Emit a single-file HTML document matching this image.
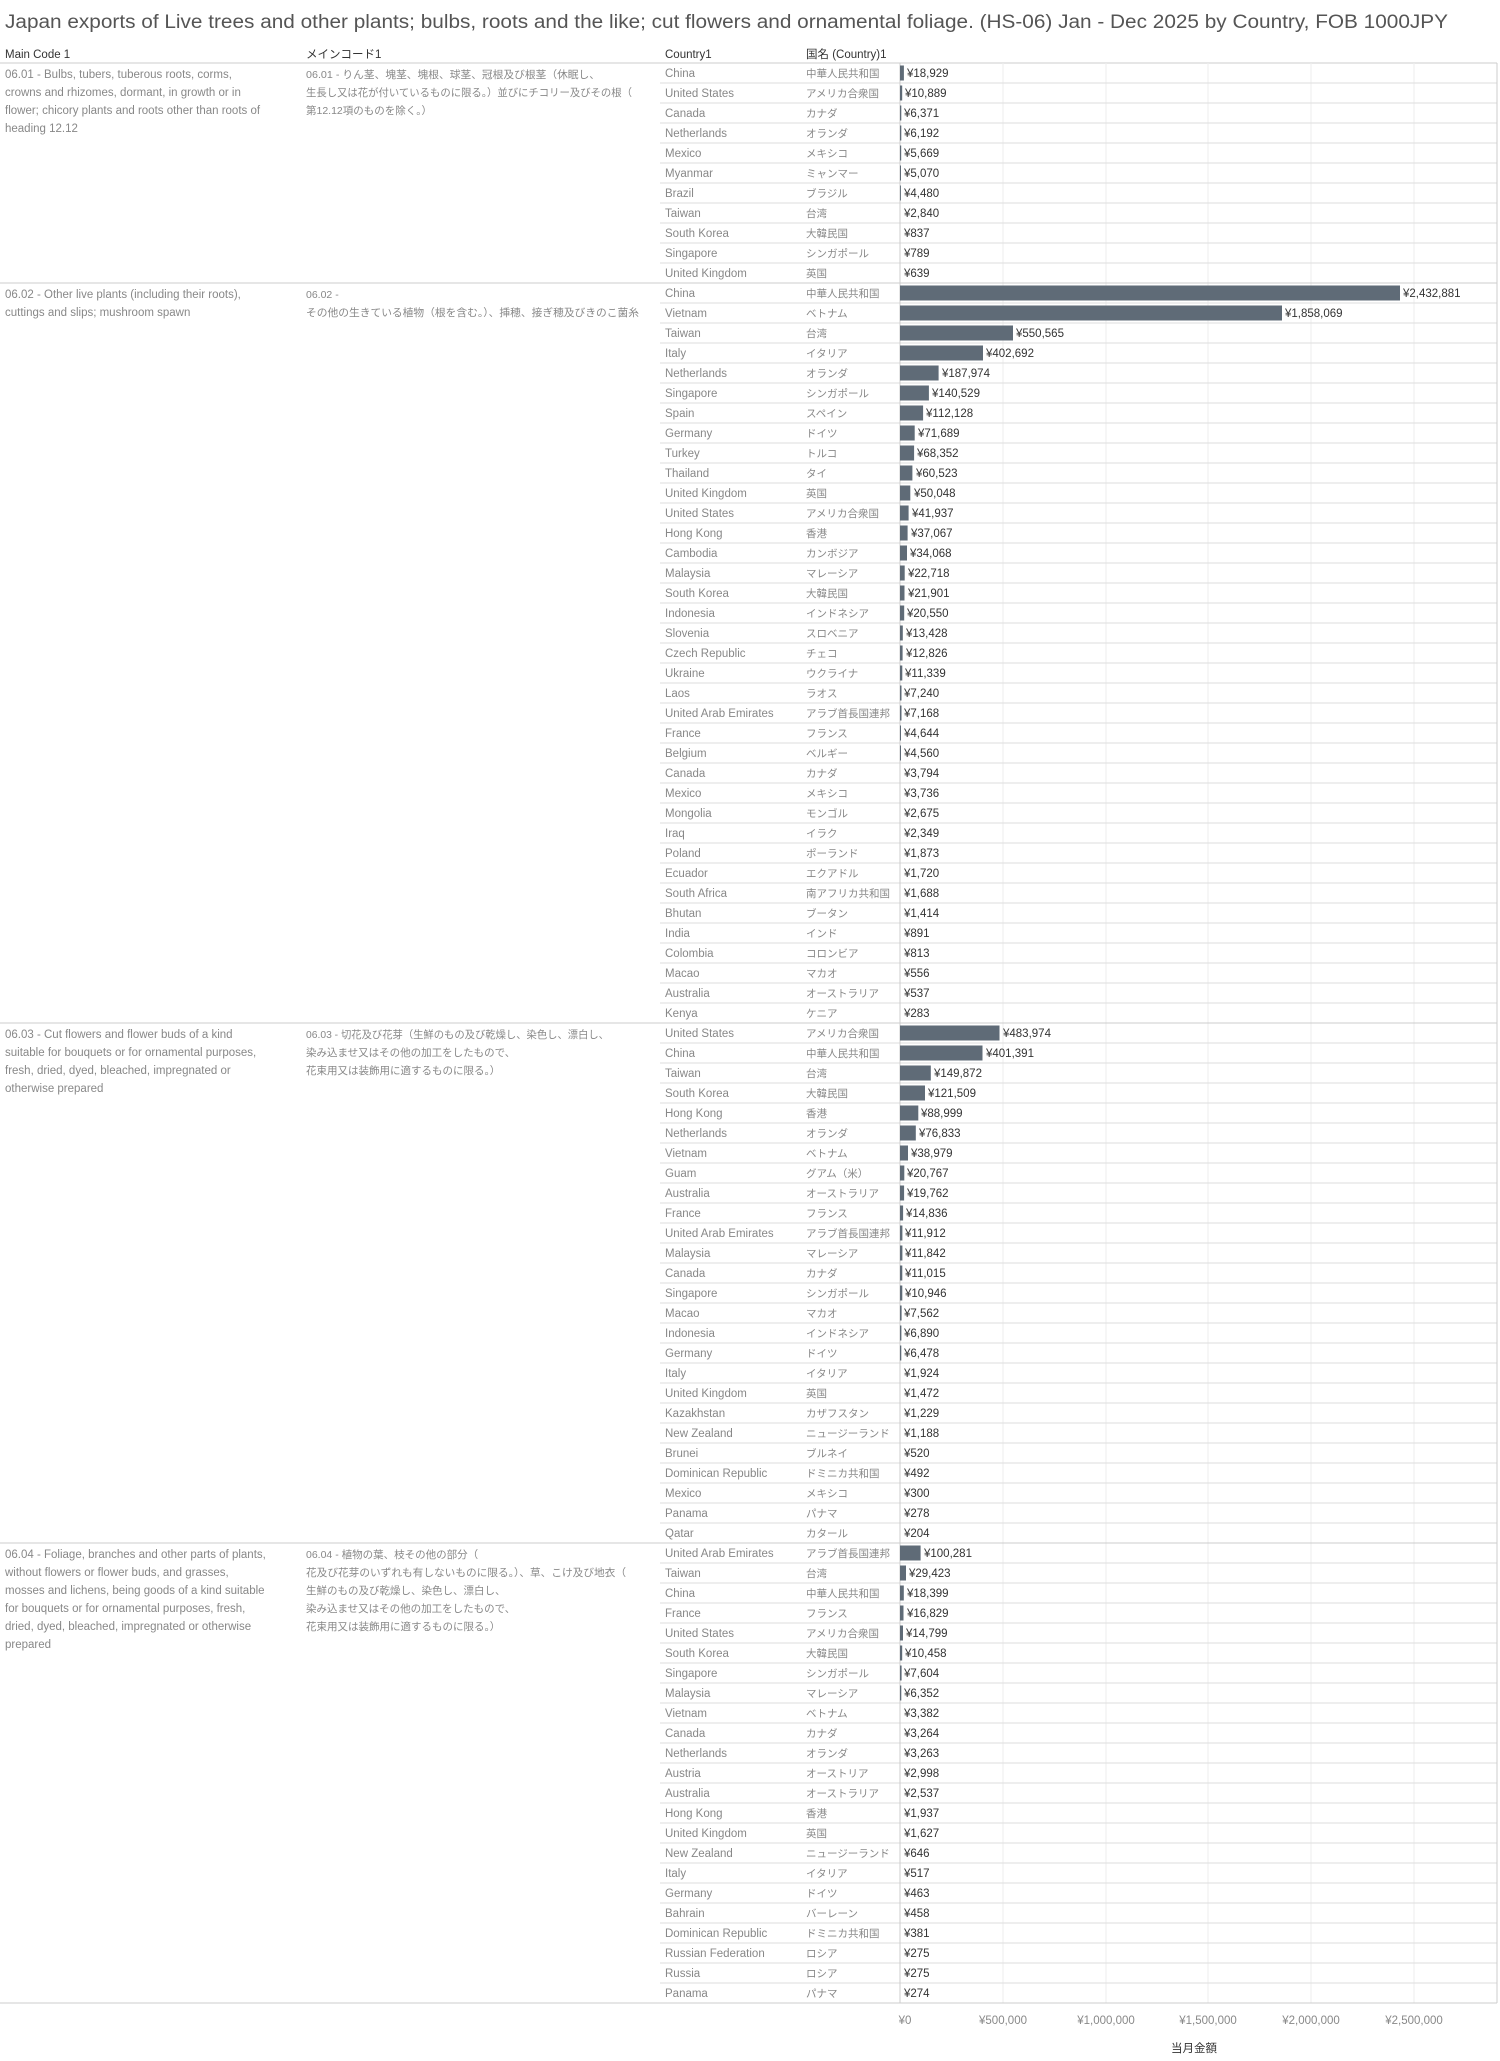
<!DOCTYPE html>
<html><head><meta charset="utf-8"><style>
html,body{margin:0;padding:0;background:#fff}
svg{display:block}
text{font-family:"Liberation Sans","Noto Sans CJK JP",sans-serif}
.t{font-size:19px;fill:#555}
.h{font-size:11.5px;fill:#333}
.d{font-size:11.5px;fill:#888}
.dj{font-size:10.5px;fill:#888}
.c{font-size:11.5px;fill:#888}
.j{font-size:10.5px;fill:#888}
.v{font-size:11.5px;fill:#333}
.a{font-size:11.5px;fill:#888}
.b{fill:#5f6b77}
</style></head><body>
<svg width="1500" height="2061" viewBox="0 0 1500 2061" xmlns="http://www.w3.org/2000/svg">
<text class="t" x="5" y="28" textLength="1443" lengthAdjust="spacingAndGlyphs">Japan exports of Live trees and other plants; bulbs, roots and the like; cut flowers and ornamental foliage. (HS-06) Jan - Dec 2025 by Country, FOB 1000JPY</text>
<text class="h" x="5" y="58">Main Code 1</text>
<text class="h" x="306" y="58">メインコード1</text>
<text class="h" x="665" y="58">Country1</text>
<text class="h" x="806" y="58">国名 (Country)1</text>
<line x1="0" y1="63" x2="1497" y2="63" stroke="#ccc"/>
<g stroke="#eee">
<line x1="1003" y1="63" x2="1003" y2="2003"/><line x1="1106" y1="63" x2="1106" y2="2003"/><line x1="1208" y1="63" x2="1208" y2="2003"/><line x1="1311" y1="63" x2="1311" y2="2003"/><line x1="1414" y1="63" x2="1414" y2="2003"/>
</g>
<g stroke="#ddd">
<line x1="660" y1="83" x2="1497" y2="83"/><line x1="660" y1="103" x2="1497" y2="103"/><line x1="660" y1="123" x2="1497" y2="123"/><line x1="660" y1="143" x2="1497" y2="143"/><line x1="660" y1="163" x2="1497" y2="163"/><line x1="660" y1="183" x2="1497" y2="183"/><line x1="660" y1="203" x2="1497" y2="203"/><line x1="660" y1="223" x2="1497" y2="223"/><line x1="660" y1="243" x2="1497" y2="243"/><line x1="660" y1="263" x2="1497" y2="263"/>
<line x1="660" y1="303" x2="1497" y2="303"/><line x1="660" y1="323" x2="1497" y2="323"/><line x1="660" y1="343" x2="1497" y2="343"/><line x1="660" y1="363" x2="1497" y2="363"/><line x1="660" y1="383" x2="1497" y2="383"/><line x1="660" y1="403" x2="1497" y2="403"/><line x1="660" y1="423" x2="1497" y2="423"/><line x1="660" y1="443" x2="1497" y2="443"/><line x1="660" y1="463" x2="1497" y2="463"/><line x1="660" y1="483" x2="1497" y2="483"/><line x1="660" y1="503" x2="1497" y2="503"/><line x1="660" y1="523" x2="1497" y2="523"/><line x1="660" y1="543" x2="1497" y2="543"/><line x1="660" y1="563" x2="1497" y2="563"/><line x1="660" y1="583" x2="1497" y2="583"/><line x1="660" y1="603" x2="1497" y2="603"/><line x1="660" y1="623" x2="1497" y2="623"/><line x1="660" y1="643" x2="1497" y2="643"/><line x1="660" y1="663" x2="1497" y2="663"/><line x1="660" y1="683" x2="1497" y2="683"/><line x1="660" y1="703" x2="1497" y2="703"/><line x1="660" y1="723" x2="1497" y2="723"/><line x1="660" y1="743" x2="1497" y2="743"/><line x1="660" y1="763" x2="1497" y2="763"/><line x1="660" y1="783" x2="1497" y2="783"/><line x1="660" y1="803" x2="1497" y2="803"/><line x1="660" y1="823" x2="1497" y2="823"/><line x1="660" y1="843" x2="1497" y2="843"/><line x1="660" y1="863" x2="1497" y2="863"/><line x1="660" y1="883" x2="1497" y2="883"/><line x1="660" y1="903" x2="1497" y2="903"/><line x1="660" y1="923" x2="1497" y2="923"/><line x1="660" y1="943" x2="1497" y2="943"/><line x1="660" y1="963" x2="1497" y2="963"/><line x1="660" y1="983" x2="1497" y2="983"/><line x1="660" y1="1003" x2="1497" y2="1003"/>
<line x1="660" y1="1043" x2="1497" y2="1043"/><line x1="660" y1="1063" x2="1497" y2="1063"/><line x1="660" y1="1083" x2="1497" y2="1083"/><line x1="660" y1="1103" x2="1497" y2="1103"/><line x1="660" y1="1123" x2="1497" y2="1123"/><line x1="660" y1="1143" x2="1497" y2="1143"/><line x1="660" y1="1163" x2="1497" y2="1163"/><line x1="660" y1="1183" x2="1497" y2="1183"/><line x1="660" y1="1203" x2="1497" y2="1203"/><line x1="660" y1="1223" x2="1497" y2="1223"/><line x1="660" y1="1243" x2="1497" y2="1243"/><line x1="660" y1="1263" x2="1497" y2="1263"/><line x1="660" y1="1283" x2="1497" y2="1283"/><line x1="660" y1="1303" x2="1497" y2="1303"/><line x1="660" y1="1323" x2="1497" y2="1323"/><line x1="660" y1="1343" x2="1497" y2="1343"/><line x1="660" y1="1363" x2="1497" y2="1363"/><line x1="660" y1="1383" x2="1497" y2="1383"/><line x1="660" y1="1403" x2="1497" y2="1403"/><line x1="660" y1="1423" x2="1497" y2="1423"/><line x1="660" y1="1443" x2="1497" y2="1443"/><line x1="660" y1="1463" x2="1497" y2="1463"/><line x1="660" y1="1483" x2="1497" y2="1483"/><line x1="660" y1="1503" x2="1497" y2="1503"/><line x1="660" y1="1523" x2="1497" y2="1523"/>
<line x1="660" y1="1563" x2="1497" y2="1563"/><line x1="660" y1="1583" x2="1497" y2="1583"/><line x1="660" y1="1603" x2="1497" y2="1603"/><line x1="660" y1="1623" x2="1497" y2="1623"/><line x1="660" y1="1643" x2="1497" y2="1643"/><line x1="660" y1="1663" x2="1497" y2="1663"/><line x1="660" y1="1683" x2="1497" y2="1683"/><line x1="660" y1="1703" x2="1497" y2="1703"/><line x1="660" y1="1723" x2="1497" y2="1723"/><line x1="660" y1="1743" x2="1497" y2="1743"/><line x1="660" y1="1763" x2="1497" y2="1763"/><line x1="660" y1="1783" x2="1497" y2="1783"/><line x1="660" y1="1803" x2="1497" y2="1803"/><line x1="660" y1="1823" x2="1497" y2="1823"/><line x1="660" y1="1843" x2="1497" y2="1843"/><line x1="660" y1="1863" x2="1497" y2="1863"/><line x1="660" y1="1883" x2="1497" y2="1883"/><line x1="660" y1="1903" x2="1497" y2="1903"/><line x1="660" y1="1923" x2="1497" y2="1923"/><line x1="660" y1="1943" x2="1497" y2="1943"/><line x1="660" y1="1963" x2="1497" y2="1963"/><line x1="660" y1="1983" x2="1497" y2="1983"/>
</g>
<g stroke="#ccc">
<line x1="0" y1="283" x2="1497" y2="283"/><line x1="0" y1="1023" x2="1497" y2="1023"/><line x1="0" y1="1543" x2="1497" y2="1543"/><line x1="0" y1="2003" x2="1497" y2="2003"/>
<line x1="900" y1="63" x2="900" y2="2003"/><line x1="1497" y1="63" x2="1497" y2="2003"/>
</g>
<text class="d" x="5" y="78">06.01 - Bulbs, tubers, tuberous roots, corms,</text>
<text class="d" x="5" y="96">crowns and rhizomes, dormant, in growth or in</text>
<text class="d" x="5" y="114">flower; chicory plants and roots other than roots of</text>
<text class="d" x="5" y="132">heading 12.12</text>
<text class="dj" x="306" y="78" textLength="294" lengthAdjust="spacingAndGlyphs">06.01 - りん茎、塊茎、塊根、球茎、冠根及び根茎（休眠し、</text>
<text class="dj" x="306" y="96" textLength="326" lengthAdjust="spacingAndGlyphs">生長し又は花が付いているものに限る。）並びにチコリー及びその根（</text>
<text class="dj" x="306" y="114">第12.12項のものを除く。）</text>
<text class="d" x="5" y="298">06.02 - Other live plants (including their roots),</text>
<text class="d" x="5" y="316">cuttings and slips; mushroom spawn</text>
<text class="dj" x="306" y="298">06.02 -</text>
<text class="dj" x="306" y="316" textLength="333" lengthAdjust="spacingAndGlyphs">その他の生きている植物（根を含む。）、挿穂、接ぎ穂及びきのこ菌糸</text>
<text class="d" x="5" y="1038">06.03 - Cut flowers and flower buds of a kind</text>
<text class="d" x="5" y="1056">suitable for bouquets or for ornamental purposes,</text>
<text class="d" x="5" y="1074">fresh, dried, dyed, bleached, impregnated or</text>
<text class="d" x="5" y="1092">otherwise prepared</text>
<text class="dj" x="306" y="1038" textLength="303" lengthAdjust="spacingAndGlyphs">06.03 - 切花及び花芽（生鮮のもの及び乾燥し、染色し、漂白し、</text>
<text class="dj" x="306" y="1056">染み込ませ又はその他の加工をしたもので、</text>
<text class="dj" x="306" y="1074">花束用又は装飾用に適するものに限る。）</text>
<text class="d" x="5" y="1558">06.04 - Foliage, branches and other parts of plants,</text>
<text class="d" x="5" y="1576">without flowers or flower buds, and grasses,</text>
<text class="d" x="5" y="1594">mosses and lichens, being goods of a kind suitable</text>
<text class="d" x="5" y="1612">for bouquets or for ornamental purposes, fresh,</text>
<text class="d" x="5" y="1630">dried, dyed, bleached, impregnated or otherwise</text>
<text class="d" x="5" y="1648">prepared</text>
<text class="dj" x="306" y="1558">06.04 - 植物の葉、枝その他の部分（</text>
<text class="dj" x="306" y="1576" textLength="320" lengthAdjust="spacingAndGlyphs">花及び花芽のいずれも有しないものに限る。）、草、こけ及び地衣（</text>
<text class="dj" x="306" y="1594">生鮮のもの及び乾燥し、染色し、漂白し、</text>
<text class="dj" x="306" y="1612">染み込ませ又はその他の加工をしたもので、</text>
<text class="dj" x="306" y="1630">花束用又は装飾用に適するものに限る。）</text>

<g transform="translate(0,63)"><text class="c" x="665" y="14">China</text><text class="j" x="806" y="14">中華人民共和国</text><rect class="b" x="900" y="2.5" width="3.9" height="15"/><text class="v" x="907" y="14">¥18,929</text></g>
<g transform="translate(0,83)"><text class="c" x="665" y="14">United States</text><text class="j" x="806" y="14">アメリカ合衆国</text><rect class="b" x="900" y="2.5" width="2.2" height="15"/><text class="v" x="905" y="14">¥10,889</text></g>
<g transform="translate(0,103)"><text class="c" x="665" y="14">Canada</text><text class="j" x="806" y="14">カナダ</text><rect class="b" x="900" y="2.5" width="1.3" height="15"/><text class="v" x="904" y="14">¥6,371</text></g>
<g transform="translate(0,123)"><text class="c" x="665" y="14">Netherlands</text><text class="j" x="806" y="14">オランダ</text><rect class="b" x="900" y="2.5" width="1.3" height="15"/><text class="v" x="904" y="14">¥6,192</text></g>
<g transform="translate(0,143)"><text class="c" x="665" y="14">Mexico</text><text class="j" x="806" y="14">メキシコ</text><rect class="b" x="900" y="2.5" width="1.2" height="15"/><text class="v" x="904" y="14">¥5,669</text></g>
<g transform="translate(0,163)"><text class="c" x="665" y="14">Myanmar</text><text class="j" x="806" y="14">ミャンマー</text><rect class="b" x="900" y="2.5" width="1" height="15"/><text class="v" x="904" y="14">¥5,070</text></g>
<g transform="translate(0,183)"><text class="c" x="665" y="14">Brazil</text><text class="j" x="806" y="14">ブラジル</text><rect class="b" x="900" y="2.5" width="0.9" height="15"/><text class="v" x="904" y="14">¥4,480</text></g>
<g transform="translate(0,203)"><text class="c" x="665" y="14">Taiwan</text><text class="j" x="806" y="14">台湾</text><text class="v" x="904" y="14">¥2,840</text></g>
<g transform="translate(0,223)"><text class="c" x="665" y="14">South Korea</text><text class="j" x="806" y="14">大韓民国</text><text class="v" x="904" y="14">¥837</text></g>
<g transform="translate(0,243)"><text class="c" x="665" y="14">Singapore</text><text class="j" x="806" y="14">シンガポール</text><text class="v" x="904" y="14">¥789</text></g>
<g transform="translate(0,263)"><text class="c" x="665" y="14">United Kingdom</text><text class="j" x="806" y="14">英国</text><text class="v" x="904" y="14">¥639</text></g>

<g transform="translate(0,283)"><text class="c" x="665" y="14">China</text><text class="j" x="806" y="14">中華人民共和国</text><rect class="b" x="900" y="2.5" width="500" height="15"/><text class="v" x="1403" y="14">¥2,432,881</text></g>
<g transform="translate(0,303)"><text class="c" x="665" y="14">Vietnam</text><text class="j" x="806" y="14">ベトナム</text><rect class="b" x="900" y="2.5" width="382" height="15"/><text class="v" x="1285" y="14">¥1,858,069</text></g>
<g transform="translate(0,323)"><text class="c" x="665" y="14">Taiwan</text><text class="j" x="806" y="14">台湾</text><rect class="b" x="900" y="2.5" width="113" height="15"/><text class="v" x="1016" y="14">¥550,565</text></g>
<g transform="translate(0,343)"><text class="c" x="665" y="14">Italy</text><text class="j" x="806" y="14">イタリア</text><rect class="b" x="900" y="2.5" width="83" height="15"/><text class="v" x="986" y="14">¥402,692</text></g>
<g transform="translate(0,363)"><text class="c" x="665" y="14">Netherlands</text><text class="j" x="806" y="14">オランダ</text><rect class="b" x="900" y="2.5" width="38.6" height="15"/><text class="v" x="942" y="14">¥187,974</text></g>
<g transform="translate(0,383)"><text class="c" x="665" y="14">Singapore</text><text class="j" x="806" y="14">シンガポール</text><rect class="b" x="900" y="2.5" width="28.9" height="15"/><text class="v" x="932" y="14">¥140,529</text></g>
<g transform="translate(0,403)"><text class="c" x="665" y="14">Spain</text><text class="j" x="806" y="14">スペイン</text><rect class="b" x="900" y="2.5" width="23.1" height="15"/><text class="v" x="926" y="14">¥112,128</text></g>
<g transform="translate(0,423)"><text class="c" x="665" y="14">Germany</text><text class="j" x="806" y="14">ドイツ</text><rect class="b" x="900" y="2.5" width="14.7" height="15"/><text class="v" x="918" y="14">¥71,689</text></g>
<g transform="translate(0,443)"><text class="c" x="665" y="14">Turkey</text><text class="j" x="806" y="14">トルコ</text><rect class="b" x="900" y="2.5" width="14.1" height="15"/><text class="v" x="917" y="14">¥68,352</text></g>
<g transform="translate(0,463)"><text class="c" x="665" y="14">Thailand</text><text class="j" x="806" y="14">タイ</text><rect class="b" x="900" y="2.5" width="12.4" height="15"/><text class="v" x="916" y="14">¥60,523</text></g>
<g transform="translate(0,483)"><text class="c" x="665" y="14">United Kingdom</text><text class="j" x="806" y="14">英国</text><rect class="b" x="900" y="2.5" width="10.3" height="15"/><text class="v" x="914" y="14">¥50,048</text></g>
<g transform="translate(0,503)"><text class="c" x="665" y="14">United States</text><text class="j" x="806" y="14">アメリカ合衆国</text><rect class="b" x="900" y="2.5" width="8.6" height="15"/><text class="v" x="912" y="14">¥41,937</text></g>
<g transform="translate(0,523)"><text class="c" x="665" y="14">Hong Kong</text><text class="j" x="806" y="14">香港</text><rect class="b" x="900" y="2.5" width="7.6" height="15"/><text class="v" x="911" y="14">¥37,067</text></g>
<g transform="translate(0,543)"><text class="c" x="665" y="14">Cambodia</text><text class="j" x="806" y="14">カンボジア</text><rect class="b" x="900" y="2.5" width="7" height="15"/><text class="v" x="910" y="14">¥34,068</text></g>
<g transform="translate(0,563)"><text class="c" x="665" y="14">Malaysia</text><text class="j" x="806" y="14">マレーシア</text><rect class="b" x="900" y="2.5" width="4.7" height="15"/><text class="v" x="908" y="14">¥22,718</text></g>
<g transform="translate(0,583)"><text class="c" x="665" y="14">South Korea</text><text class="j" x="806" y="14">大韓民国</text><rect class="b" x="900" y="2.5" width="4.5" height="15"/><text class="v" x="908" y="14">¥21,901</text></g>
<g transform="translate(0,603)"><text class="c" x="665" y="14">Indonesia</text><text class="j" x="806" y="14">インドネシア</text><rect class="b" x="900" y="2.5" width="4.2" height="15"/><text class="v" x="907" y="14">¥20,550</text></g>
<g transform="translate(0,623)"><text class="c" x="665" y="14">Slovenia</text><text class="j" x="806" y="14">スロベニア</text><rect class="b" x="900" y="2.5" width="2.8" height="15"/><text class="v" x="906" y="14">¥13,428</text></g>
<g transform="translate(0,643)"><text class="c" x="665" y="14">Czech Republic</text><text class="j" x="806" y="14">チェコ</text><rect class="b" x="900" y="2.5" width="2.6" height="15"/><text class="v" x="906" y="14">¥12,826</text></g>
<g transform="translate(0,663)"><text class="c" x="665" y="14">Ukraine</text><text class="j" x="806" y="14">ウクライナ</text><rect class="b" x="900" y="2.5" width="2.3" height="15"/><text class="v" x="905" y="14">¥11,339</text></g>
<g transform="translate(0,683)"><text class="c" x="665" y="14">Laos</text><text class="j" x="806" y="14">ラオス</text><rect class="b" x="900" y="2.5" width="1.5" height="15"/><text class="v" x="904" y="14">¥7,240</text></g>
<g transform="translate(0,703)"><text class="c" x="665" y="14">United Arab Emirates</text><text class="j" x="806" y="14">アラブ首長国連邦</text><rect class="b" x="900" y="2.5" width="1.5" height="15"/><text class="v" x="904" y="14">¥7,168</text></g>
<g transform="translate(0,723)"><text class="c" x="665" y="14">France</text><text class="j" x="806" y="14">フランス</text><rect class="b" x="900" y="2.5" width="1" height="15"/><text class="v" x="904" y="14">¥4,644</text></g>
<g transform="translate(0,743)"><text class="c" x="665" y="14">Belgium</text><text class="j" x="806" y="14">ベルギー</text><rect class="b" x="900" y="2.5" width="1" height="15"/><text class="v" x="904" y="14">¥4,560</text></g>
<g transform="translate(0,763)"><text class="c" x="665" y="14">Canada</text><text class="j" x="806" y="14">カナダ</text><text class="v" x="904" y="14">¥3,794</text></g>
<g transform="translate(0,783)"><text class="c" x="665" y="14">Mexico</text><text class="j" x="806" y="14">メキシコ</text><text class="v" x="904" y="14">¥3,736</text></g>
<g transform="translate(0,803)"><text class="c" x="665" y="14">Mongolia</text><text class="j" x="806" y="14">モンゴル</text><text class="v" x="904" y="14">¥2,675</text></g>
<g transform="translate(0,823)"><text class="c" x="665" y="14">Iraq</text><text class="j" x="806" y="14">イラク</text><text class="v" x="904" y="14">¥2,349</text></g>
<g transform="translate(0,843)"><text class="c" x="665" y="14">Poland</text><text class="j" x="806" y="14">ポーランド</text><text class="v" x="904" y="14">¥1,873</text></g>
<g transform="translate(0,863)"><text class="c" x="665" y="14">Ecuador</text><text class="j" x="806" y="14">エクアドル</text><text class="v" x="904" y="14">¥1,720</text></g>
<g transform="translate(0,883)"><text class="c" x="665" y="14">South Africa</text><text class="j" x="806" y="14">南アフリカ共和国</text><text class="v" x="904" y="14">¥1,688</text></g>
<g transform="translate(0,903)"><text class="c" x="665" y="14">Bhutan</text><text class="j" x="806" y="14">ブータン</text><text class="v" x="904" y="14">¥1,414</text></g>
<g transform="translate(0,923)"><text class="c" x="665" y="14">India</text><text class="j" x="806" y="14">インド</text><text class="v" x="904" y="14">¥891</text></g>
<g transform="translate(0,943)"><text class="c" x="665" y="14">Colombia</text><text class="j" x="806" y="14">コロンビア</text><text class="v" x="904" y="14">¥813</text></g>
<g transform="translate(0,963)"><text class="c" x="665" y="14">Macao</text><text class="j" x="806" y="14">マカオ</text><text class="v" x="904" y="14">¥556</text></g>
<g transform="translate(0,983)"><text class="c" x="665" y="14">Australia</text><text class="j" x="806" y="14">オーストラリア</text><text class="v" x="904" y="14">¥537</text></g>
<g transform="translate(0,1003)"><text class="c" x="665" y="14">Kenya</text><text class="j" x="806" y="14">ケニア</text><text class="v" x="904" y="14">¥283</text></g>

<g transform="translate(0,1023)"><text class="c" x="665" y="14">United States</text><text class="j" x="806" y="14">アメリカ合衆国</text><rect class="b" x="900" y="2.5" width="99.5" height="15"/><text class="v" x="1003" y="14">¥483,974</text></g>
<g transform="translate(0,1043)"><text class="c" x="665" y="14">China</text><text class="j" x="806" y="14">中華人民共和国</text><rect class="b" x="900" y="2.5" width="82.5" height="15"/><text class="v" x="986" y="14">¥401,391</text></g>
<g transform="translate(0,1063)"><text class="c" x="665" y="14">Taiwan</text><text class="j" x="806" y="14">台湾</text><rect class="b" x="900" y="2.5" width="30.8" height="15"/><text class="v" x="934" y="14">¥149,872</text></g>
<g transform="translate(0,1083)"><text class="c" x="665" y="14">South Korea</text><text class="j" x="806" y="14">大韓民国</text><rect class="b" x="900" y="2.5" width="25" height="15"/><text class="v" x="928" y="14">¥121,509</text></g>
<g transform="translate(0,1103)"><text class="c" x="665" y="14">Hong Kong</text><text class="j" x="806" y="14">香港</text><rect class="b" x="900" y="2.5" width="18.3" height="15"/><text class="v" x="921" y="14">¥88,999</text></g>
<g transform="translate(0,1123)"><text class="c" x="665" y="14">Netherlands</text><text class="j" x="806" y="14">オランダ</text><rect class="b" x="900" y="2.5" width="15.8" height="15"/><text class="v" x="919" y="14">¥76,833</text></g>
<g transform="translate(0,1143)"><text class="c" x="665" y="14">Vietnam</text><text class="j" x="806" y="14">ベトナム</text><rect class="b" x="900" y="2.5" width="8" height="15"/><text class="v" x="911" y="14">¥38,979</text></g>
<g transform="translate(0,1163)"><text class="c" x="665" y="14">Guam</text><text class="j" x="806" y="14">グアム（米）</text><rect class="b" x="900" y="2.5" width="4.3" height="15"/><text class="v" x="907" y="14">¥20,767</text></g>
<g transform="translate(0,1183)"><text class="c" x="665" y="14">Australia</text><text class="j" x="806" y="14">オーストラリア</text><rect class="b" x="900" y="2.5" width="4.1" height="15"/><text class="v" x="907" y="14">¥19,762</text></g>
<g transform="translate(0,1203)"><text class="c" x="665" y="14">France</text><text class="j" x="806" y="14">フランス</text><rect class="b" x="900" y="2.5" width="3.1" height="15"/><text class="v" x="906" y="14">¥14,836</text></g>
<g transform="translate(0,1223)"><text class="c" x="665" y="14">United Arab Emirates</text><text class="j" x="806" y="14">アラブ首長国連邦</text><rect class="b" x="900" y="2.5" width="2.4" height="15"/><text class="v" x="905" y="14">¥11,912</text></g>
<g transform="translate(0,1243)"><text class="c" x="665" y="14">Malaysia</text><text class="j" x="806" y="14">マレーシア</text><rect class="b" x="900" y="2.5" width="2.4" height="15"/><text class="v" x="905" y="14">¥11,842</text></g>
<g transform="translate(0,1263)"><text class="c" x="665" y="14">Canada</text><text class="j" x="806" y="14">カナダ</text><rect class="b" x="900" y="2.5" width="2.3" height="15"/><text class="v" x="905" y="14">¥11,015</text></g>
<g transform="translate(0,1283)"><text class="c" x="665" y="14">Singapore</text><text class="j" x="806" y="14">シンガポール</text><rect class="b" x="900" y="2.5" width="2.3" height="15"/><text class="v" x="905" y="14">¥10,946</text></g>
<g transform="translate(0,1303)"><text class="c" x="665" y="14">Macao</text><text class="j" x="806" y="14">マカオ</text><rect class="b" x="900" y="2.5" width="1.6" height="15"/><text class="v" x="904" y="14">¥7,562</text></g>
<g transform="translate(0,1323)"><text class="c" x="665" y="14">Indonesia</text><text class="j" x="806" y="14">インドネシア</text><rect class="b" x="900" y="2.5" width="1.4" height="15"/><text class="v" x="904" y="14">¥6,890</text></g>
<g transform="translate(0,1343)"><text class="c" x="665" y="14">Germany</text><text class="j" x="806" y="14">ドイツ</text><rect class="b" x="900" y="2.5" width="1.3" height="15"/><text class="v" x="904" y="14">¥6,478</text></g>
<g transform="translate(0,1363)"><text class="c" x="665" y="14">Italy</text><text class="j" x="806" y="14">イタリア</text><text class="v" x="904" y="14">¥1,924</text></g>
<g transform="translate(0,1383)"><text class="c" x="665" y="14">United Kingdom</text><text class="j" x="806" y="14">英国</text><text class="v" x="904" y="14">¥1,472</text></g>
<g transform="translate(0,1403)"><text class="c" x="665" y="14">Kazakhstan</text><text class="j" x="806" y="14">カザフスタン</text><text class="v" x="904" y="14">¥1,229</text></g>
<g transform="translate(0,1423)"><text class="c" x="665" y="14">New Zealand</text><text class="j" x="806" y="14">ニュージーランド</text><text class="v" x="904" y="14">¥1,188</text></g>
<g transform="translate(0,1443)"><text class="c" x="665" y="14">Brunei</text><text class="j" x="806" y="14">ブルネイ</text><text class="v" x="904" y="14">¥520</text></g>
<g transform="translate(0,1463)"><text class="c" x="665" y="14">Dominican Republic</text><text class="j" x="806" y="14">ドミニカ共和国</text><text class="v" x="904" y="14">¥492</text></g>
<g transform="translate(0,1483)"><text class="c" x="665" y="14">Mexico</text><text class="j" x="806" y="14">メキシコ</text><text class="v" x="904" y="14">¥300</text></g>
<g transform="translate(0,1503)"><text class="c" x="665" y="14">Panama</text><text class="j" x="806" y="14">パナマ</text><text class="v" x="904" y="14">¥278</text></g>
<g transform="translate(0,1523)"><text class="c" x="665" y="14">Qatar</text><text class="j" x="806" y="14">カタール</text><text class="v" x="904" y="14">¥204</text></g>

<g transform="translate(0,1543)"><text class="c" x="665" y="14">United Arab Emirates</text><text class="j" x="806" y="14">アラブ首長国連邦</text><rect class="b" x="900" y="2.5" width="20.6" height="15"/><text class="v" x="924" y="14">¥100,281</text></g>
<g transform="translate(0,1563)"><text class="c" x="665" y="14">Taiwan</text><text class="j" x="806" y="14">台湾</text><rect class="b" x="900" y="2.5" width="6" height="15"/><text class="v" x="909" y="14">¥29,423</text></g>
<g transform="translate(0,1583)"><text class="c" x="665" y="14">China</text><text class="j" x="806" y="14">中華人民共和国</text><rect class="b" x="900" y="2.5" width="3.8" height="15"/><text class="v" x="907" y="14">¥18,399</text></g>
<g transform="translate(0,1603)"><text class="c" x="665" y="14">France</text><text class="j" x="806" y="14">フランス</text><rect class="b" x="900" y="2.5" width="3.5" height="15"/><text class="v" x="907" y="14">¥16,829</text></g>
<g transform="translate(0,1623)"><text class="c" x="665" y="14">United States</text><text class="j" x="806" y="14">アメリカ合衆国</text><rect class="b" x="900" y="2.5" width="3" height="15"/><text class="v" x="906" y="14">¥14,799</text></g>
<g transform="translate(0,1643)"><text class="c" x="665" y="14">South Korea</text><text class="j" x="806" y="14">大韓民国</text><rect class="b" x="900" y="2.5" width="2.2" height="15"/><text class="v" x="905" y="14">¥10,458</text></g>
<g transform="translate(0,1663)"><text class="c" x="665" y="14">Singapore</text><text class="j" x="806" y="14">シンガポール</text><rect class="b" x="900" y="2.5" width="1.6" height="15"/><text class="v" x="904" y="14">¥7,604</text></g>
<g transform="translate(0,1683)"><text class="c" x="665" y="14">Malaysia</text><text class="j" x="806" y="14">マレーシア</text><rect class="b" x="900" y="2.5" width="1.3" height="15"/><text class="v" x="904" y="14">¥6,352</text></g>
<g transform="translate(0,1703)"><text class="c" x="665" y="14">Vietnam</text><text class="j" x="806" y="14">ベトナム</text><text class="v" x="904" y="14">¥3,382</text></g>
<g transform="translate(0,1723)"><text class="c" x="665" y="14">Canada</text><text class="j" x="806" y="14">カナダ</text><text class="v" x="904" y="14">¥3,264</text></g>
<g transform="translate(0,1743)"><text class="c" x="665" y="14">Netherlands</text><text class="j" x="806" y="14">オランダ</text><text class="v" x="904" y="14">¥3,263</text></g>
<g transform="translate(0,1763)"><text class="c" x="665" y="14">Austria</text><text class="j" x="806" y="14">オーストリア</text><text class="v" x="904" y="14">¥2,998</text></g>
<g transform="translate(0,1783)"><text class="c" x="665" y="14">Australia</text><text class="j" x="806" y="14">オーストラリア</text><text class="v" x="904" y="14">¥2,537</text></g>
<g transform="translate(0,1803)"><text class="c" x="665" y="14">Hong Kong</text><text class="j" x="806" y="14">香港</text><text class="v" x="904" y="14">¥1,937</text></g>
<g transform="translate(0,1823)"><text class="c" x="665" y="14">United Kingdom</text><text class="j" x="806" y="14">英国</text><text class="v" x="904" y="14">¥1,627</text></g>
<g transform="translate(0,1843)"><text class="c" x="665" y="14">New Zealand</text><text class="j" x="806" y="14">ニュージーランド</text><text class="v" x="904" y="14">¥646</text></g>
<g transform="translate(0,1863)"><text class="c" x="665" y="14">Italy</text><text class="j" x="806" y="14">イタリア</text><text class="v" x="904" y="14">¥517</text></g>
<g transform="translate(0,1883)"><text class="c" x="665" y="14">Germany</text><text class="j" x="806" y="14">ドイツ</text><text class="v" x="904" y="14">¥463</text></g>
<g transform="translate(0,1903)"><text class="c" x="665" y="14">Bahrain</text><text class="j" x="806" y="14">バーレーン</text><text class="v" x="904" y="14">¥458</text></g>
<g transform="translate(0,1923)"><text class="c" x="665" y="14">Dominican Republic</text><text class="j" x="806" y="14">ドミニカ共和国</text><text class="v" x="904" y="14">¥381</text></g>
<g transform="translate(0,1943)"><text class="c" x="665" y="14">Russian Federation</text><text class="j" x="806" y="14">ロシア</text><text class="v" x="904" y="14">¥275</text></g>
<g transform="translate(0,1963)"><text class="c" x="665" y="14">Russia</text><text class="j" x="806" y="14">ロシア</text><text class="v" x="904" y="14">¥275</text></g>
<g transform="translate(0,1983)"><text class="c" x="665" y="14">Panama</text><text class="j" x="806" y="14">パナマ</text><text class="v" x="904" y="14">¥274</text></g>

<g text-anchor="middle">
<text class="a" x="905" y="2024">¥0</text>
<text class="a" x="1003" y="2024">¥500,000</text>
<text class="a" x="1106" y="2024">¥1,000,000</text>
<text class="a" x="1208" y="2024">¥1,500,000</text>
<text class="a" x="1311" y="2024">¥2,000,000</text>
<text class="a" x="1414" y="2024">¥2,500,000</text>
</g>
<text class="h" x="1194" y="2052" text-anchor="middle">当月金額</text>
</svg>
</body></html>
